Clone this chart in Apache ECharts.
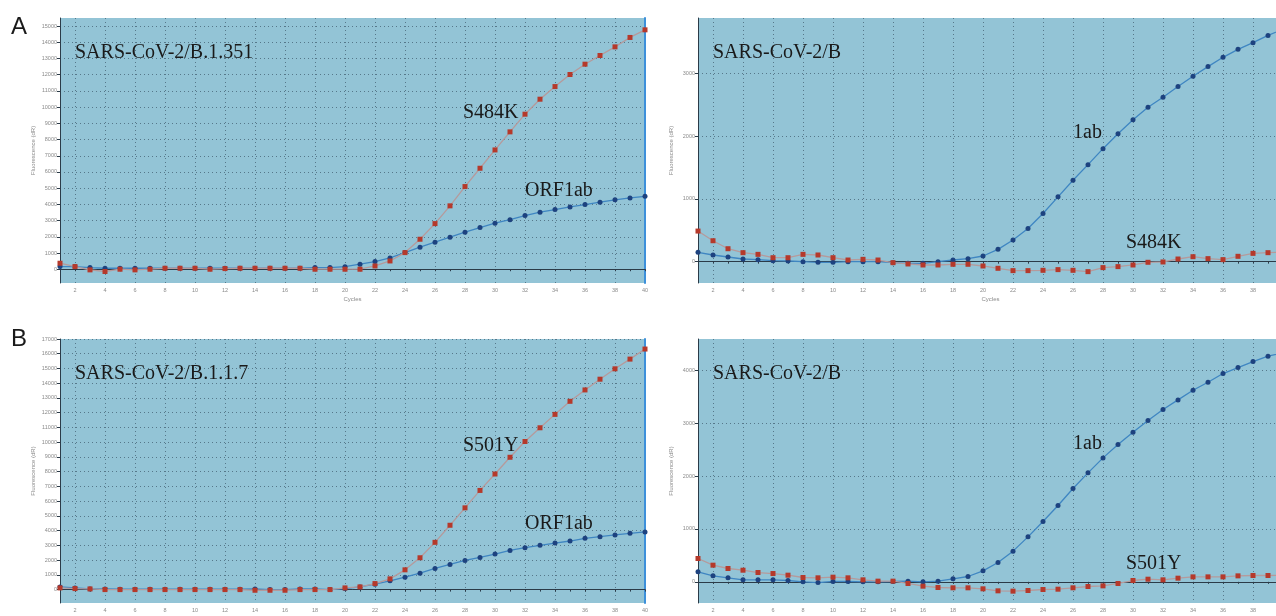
<!DOCTYPE html>
<html>
<head>
<meta charset="utf-8">
<title>qPCR amplification curves</title>
<script src="https://cdn.jsdelivr.net/npm/echarts@6/dist/echarts.min.js"></script>
<style>
    html, body { margin: 0; padding: 0; background: #ffffff; }
    #chart { width: 1276px; height: 616px; }
</style>
</head>
<body>
<div id="chart"></div>
<script>
// 循环数 1..40
var cycles = [];
for (var c = 1; c <= 40; c++) cycles.push(String(c));

// A 左: SARS-CoV-2/B.1.351
var a351_S484K = [370, 165, -40, -140, 0, -40, 0, 60, 60, 60, 0, 40, 60, 60, 60, 60, 60, 0, 0, 0,
    0, 200, 510, 1025, 1850, 2815, 3910, 5100, 6230, 7360, 8475, 9565, 10490, 11270, 12015, 12650, 13185, 13720, 14300, 14770];
var a351_ORF1ab = [165, 165, 100, 60, 60, 60, 60, 60, 60, 60, 60, 60, 60, 60, 60, 60, 60, 100, 100, 160,
    310, 470, 700, 1025, 1360, 1665, 1975, 2285, 2570, 2840, 3060, 3310, 3520, 3680, 3845, 3990, 4135, 4280, 4400, 4500];

// A 右: SARS-CoV-2/B
var aB_1ab = [148, 106, 74, 42, 32, 16, 10, 0, -10, -10, 0, 0, 0, -16, -26, -26, 0, 26, 48, 90,
    196, 344, 529, 767, 1032, 1296, 1545, 1799, 2037, 2259, 2460, 2619, 2788, 2952, 3106, 3254, 3381, 3487, 3603, 3700];
var aB_S484K = [487, 333, 206, 143, 116, 63, 63, 116, 106, 63, 26, 37, 26, -16, -37, -53, -53, -42, -42, -69,
    -106, -143, -143, -138, -127, -138, -159, -95, -79, -53, -10, -5, 42, 79, 48, 32, 85, 132, 143, 150];

// B 左: SARS-CoV-2/B.1.1.7
var b117_S501Y = [114, 68, 45, 0, 0, 0, 0, 0, 0, 0, 0, 0, 0, -45, -45, -45, 0, 0, 0, 114,
    182, 409, 727, 1341, 2159, 3205, 4364, 5545, 6727, 7841, 8977, 10045, 10977, 11886, 12773, 13545, 14273, 14977, 15636, 16318];
var b117_ORF1ab = [182, 114, 45, 45, 23, 23, 23, 23, 23, 23, 23, 23, 23, 45, 0, 0, 45, 45, 0, 68,
    182, 364, 591, 841, 1114, 1432, 1705, 1977, 2182, 2409, 2659, 2841, 3000, 3159, 3295, 3477, 3591, 3705, 3818, 3909];

// B 右: SARS-CoV-2/B
var bB_1ab = [189, 113, 76, 38, 38, 38, 25, 0, -13, 6, 6, 0, 0, 6, 13, 0, 13, 57, 101, 208,
    365, 580, 850, 1140, 1443, 1764, 2060, 2343, 2595, 2828, 3049, 3257, 3439, 3622, 3773, 3937, 4050, 4164, 4265, 4330];
var bB_S501Y = [441, 315, 252, 220, 176, 157, 126, 82, 76, 88, 76, 38, 13, 13, -31, -82, -107, -113, -113, -132,
    -170, -176, -164, -145, -139, -113, -88, -76, -31, 25, 50, 38, 69, 94, 94, 94, 113, 120, 120, 125];

// Y轴刻度标签
var yTicksA351 = [0, 1000, 2000, 3000, 4000, 5000, 6000, 7000, 8000, 9000, 10000, 11000, 12000, 13000, 14000, 15000];
var yTicksB117 = [0, 1000, 2000, 3000, 4000, 5000, 6000, 7000, 8000, 9000, 10000, 11000, 12000, 13000, 14000, 15000, 16000, 17000];
var yTicksAB = [0, 1000, 2000, 3000];
var yTicksBB = [0, 1000, 2000, 3000, 4000];

var plotBg = '#93c4d6',
    redDot = '#b5392b', redLine = '#b59a9c',
    blueDot = '#1d427f', blueLine = '#3f86c2',
    serif = '"Liberation Serif", "DejaVu Serif", serif';

var chart = echarts.init(document.getElementById('chart'));

// 四个面板的位置
var panels = [
    { left: 60, top: 18, height: 265, min: -850, max: 15500, ticks: yTicksA351, rightLine: true, cyclesName: true },
    { left: 698, top: 18, height: 265, min: -340, max: 3880, ticks: yTicksAB, rightLine: false, cyclesName: true },
    { left: 60, top: 339, height: 264, min: -910, max: 17000, ticks: yTicksB117, rightLine: true, cyclesName: false },
    { left: 698, top: 339, height: 264, min: -400, max: 4590, ticks: yTicksBB, rightLine: false, cyclesName: false }
];

var grids = [], xAxes = [], yAxes = [];
panels.forEach(function (p, i) {
    grids.push({
        left: p.left, top: p.top, width: 585, height: p.height,
        outerBoundsMode: 'none', containLabel: false,
        show: true, backgroundColor: plotBg, borderWidth: 0
    });
    xAxes.push({
        type: 'category', gridIndex: i, data: cycles, boundaryGap: false,
        name: p.cyclesName ? 'Cycles' : '', nameLocation: 'middle', nameGap: 13,
        nameTextStyle: { fontSize: 6, color: '#8a8a8a' },
        axisLine: { lineStyle: { color: '#2b3b48', width: 1 } },
        axisTick: { interval: 0, length: 2, lineStyle: { color: '#2b3b48' } },
        axisLabel: {
            fontSize: 5.5, color: '#8a8a8a', margin: 4,
            interval: function (idx) { return idx % 2 === 1; }
        },
        splitLine: {
            show: true,
            interval: function (idx) { return idx % 2 === 1; },
            lineStyle: { color: '#56788a', type: [1, 3], width: 1 }
        }
    });
    yAxes.push({
        type: 'value', gridIndex: i, min: p.min, max: p.max,
        name: 'Fluorescence (dR)', nameLocation: 'middle', nameRotate: 90, nameGap: 24,
        nameTextStyle: { fontSize: 6, color: '#8a8a8a' },
        axisLine: { show: true, lineStyle: { color: '#2b3b48', width: 1 } },
        axisTick: { show: true, length: 3, customValues: p.ticks, lineStyle: { color: '#2b3b48' } },
        axisLabel: {
            fontSize: 5.5, color: '#8a8a8a', margin: 3, customValues: p.ticks,
            formatter: function (v) { return String(v); }
        },
        splitLine: { show: true, lineStyle: { color: '#56788a', type: [1, 3], width: 1 } }
    });
    if (p.rightLine) {
        // 右侧蓝色边线
        yAxes.push({
            type: 'value', gridIndex: i, position: 'right', min: p.min, max: p.max,
            axisLine: { show: true, lineStyle: { color: '#3d90da', width: 2 } },
            axisTick: { show: false }, axisLabel: { show: false }, splitLine: { show: false }
        });
    }
});

function curve(name, data, gi, yi, dot, line, symbol) {
    return {
        name: name, type: 'line', xAxisIndex: gi, yAxisIndex: yi, data: data,
        symbol: symbol, symbolSize: 5, showSymbol: true, smooth: false,
        itemStyle: { color: dot, borderWidth: 0 },
        lineStyle: { color: line, width: 1.3 },
        z: symbol === 'rect' ? 4 : 3
    };
}

// 注意 yAxisIndex: 左侧面板多一个右轴
var series = [
    curve('ORF1ab', a351_ORF1ab, 0, 0, blueDot, blueLine, 'circle'),
    curve('S484K', a351_S484K, 0, 0, redDot, redLine, 'rect'),
    curve('1ab', aB_1ab, 1, 2, blueDot, blueLine, 'circle'),
    curve('S484K', aB_S484K, 1, 2, redDot, redLine, 'rect'),
    curve('ORF1ab', b117_ORF1ab, 2, 3, blueDot, blueLine, 'circle'),
    curve('S501Y', b117_S501Y, 2, 3, redDot, redLine, 'rect'),
    curve('1ab', bB_1ab, 3, 5, blueDot, blueLine, 'circle'),
    curve('S501Y', bB_S501Y, 3, 5, redDot, redLine, 'rect')
];

function label(text, x, y, size, family) {
    return {
        type: 'text', left: x, top: y, z: 100,
        style: { text: text, font: size + 'px ' + family, fill: '#1a1a1a' }
    };
}

var option = {
    animation: false,
    backgroundColor: '#ffffff',
    grid: grids,
    xAxis: xAxes,
    yAxis: yAxes,
    series: series,
    graphic: [
        label('A', 11, 15, 24, '"Liberation Sans", Arial, sans-serif'),
        label('B', 11, 327, 24, '"Liberation Sans", Arial, sans-serif'),
        label('SARS-CoV-2/B.1.351', 75, 43, 20, serif),
        label('SARS-CoV-2/B', 713, 43, 20, serif),
        label('SARS-CoV-2/B.1.1.7', 75, 364, 20, serif),
        label('SARS-CoV-2/B', 713, 364, 20, serif),
        label('S484K', 463, 103, 20, serif),
        label('ORF1ab', 525, 181, 20, serif),
        label('1ab', 1073, 123, 20, serif),
        label('S484K', 1126, 233, 20, serif),
        label('S501Y', 463, 436, 20, serif),
        label('ORF1ab', 525, 514, 20, serif),
        label('1ab', 1073, 434, 20, serif),
        label('S501Y', 1126, 554, 20, serif)
    ]
};

chart.setOption(option);
</script>
</body>
</html>
